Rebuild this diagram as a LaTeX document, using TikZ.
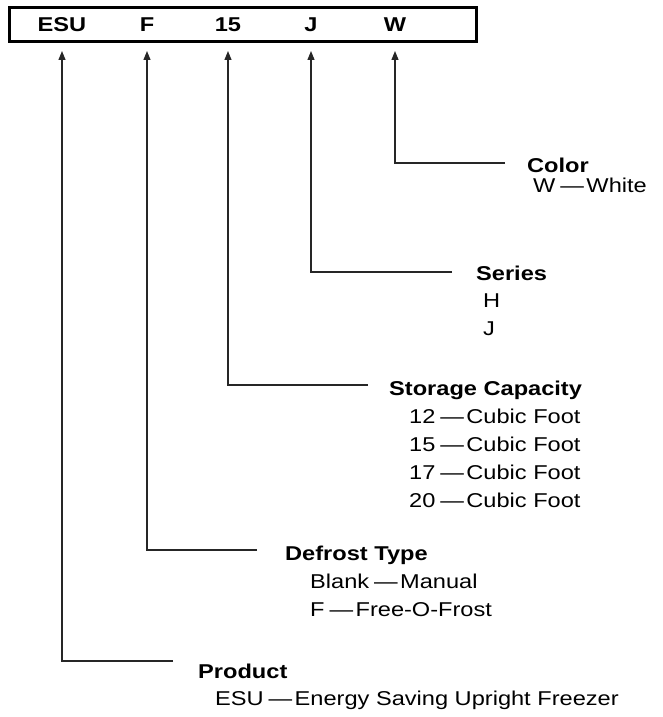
\documentclass[tikz,border=0pt]{standalone}
\usepackage{fontspec}
\setmainfont{Liberation Sans}[FakeStretch=1.18]
\usetikzlibrary{arrows.meta}
\newcommand{\dsh}{\hspace{0.25em}—\hspace{0.12em}}
\begin{document}
\begin{tikzpicture}[x=1pt,y=-1pt,
  code/.style={font=\fontsize{20}{22}\selectfont\bfseries, anchor=center, inner sep=0pt},
  head/.style={font=\fontsize{20}{22}\selectfont\bfseries, anchor=base west, inner sep=0pt},
  item/.style={font=\fontsize{20}{22}\selectfont, anchor=base west, inner sep=0pt},
  lead/.style={line width=1.2pt, black!85},
  ptr/.style={lead, -{Triangle[length=9pt,width=7pt]}}]
\useasboundingbox (0,0) rectangle (662,717);
\draw[line width=3pt] (9,8) rectangle (476,42);
\node[code] (cESU) at (62,25) {ESU};
\node[code] (cF) at (147,25) {F};
\node[code] (c15) at (228,25) {15};
\node[code] (cJ) at (311,25) {J};
\node[code] (cW) at (395,25) {W};
% arrow tips
\coordinate (tESU) at (62,51);
\coordinate (tF) at (147,51);
\coordinate (t15) at (228,51);
\coordinate (tJ) at (311,51);
\coordinate (tW) at (395,51);
% elbows and line ends
\coordinate (eW) at (395,163);  \coordinate (hW) at (505,163);
\coordinate (eJ) at (311,272);  \coordinate (hJ) at (452,272);
\coordinate (e15) at (228,385); \coordinate (h15) at (368,385);
\coordinate (eF) at (147,550);  \coordinate (hF) at (257,550);
\coordinate (eESU) at (62,661); \coordinate (hESU) at (173,661);
\draw[ptr] (hW) -- (eW) -- (tW);
\draw[ptr] (hJ) -- (eJ) -- (tJ);
\draw[ptr] (h15) -- (e15) -- (t15);
\draw[ptr] (hF) -- (eF) -- (tF);
\draw[ptr] (hESU) -- (eESU) -- (tESU);
% texts
\node[head] (color) at (527,172) {Color};
\node[item] (colW) at (533,192) {W\dsh White};
\node[head] (series) at (476,280) {Series};
\node[item] (serH) at (483,307) {H};
\node[item] (serJ) at (483,335) {J};
\node[head] (stor) at (389,395) {Storage Capacity};
\node[item] (s12) at (409,423) {12\dsh Cubic Foot};
\node[item] (s15) at (409,451) {15\dsh Cubic Foot};
\node[item] (s17) at (409,479) {17\dsh Cubic Foot};
\node[item] (s20) at (409,507) {20\dsh Cubic Foot};
\node[head] (defr) at (285,560) {Defrost Type};
\node[item] (dB) at (310,588) {Blank\dsh Manual};
\node[item] (dF) at (310,616) {F\dsh Free-O-Frost};
\node[head] (prod) at (198,678) {Product};
\node[item] (pESU) at (215,705) {ESU\dsh Energy Saving Upright Freezer};
\end{tikzpicture}
\end{document}
